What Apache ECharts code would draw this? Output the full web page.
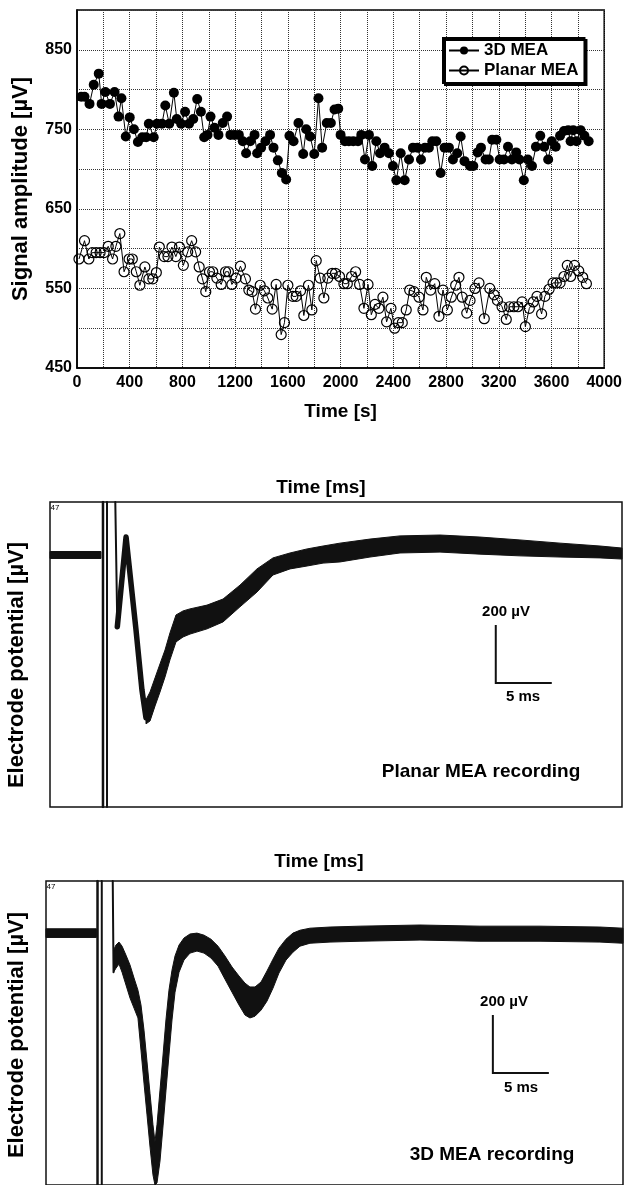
<!DOCTYPE html>
<html>
<head>
<meta charset="utf-8">
<script src="https://cdn.jsdelivr.net/npm/echarts@6/dist/echarts.min.js"></script>
<style>
  html, body { margin: 0; padding: 0; background: #fff; }
  #chart { width: 625px; height: 1185px; }
</style>
</head>
<body>
<div id="chart"></div>
<script>
// top panel: signal amplitude over time, [time s, amplitude uV]
var mea3D = [
  [32,791],[57,791],[95,782],[127,806],[165,820],[187,782],[215,797],[250,782],[285,797],[315,766],[337,789],[370,741],[400,765],[432,750],[462,734],[495,740],[525,740],[545,757],[582,740],[607,757],[645,757],[670,780],[700,757],[735,796],[757,763],[790,757],[820,772],[850,757],[882,763],[912,788],[940,772],[965,740],
  [990,743],[1013,766],[1043,752],[1073,743],[1106,758],[1139,766],[1164,743],[1195,743],[1228,743],[1258,735],[1283,720],[1314,735],[1347,743],[1367,720],[1397,727],[1430,735],[1465,743],[1491,727],[1524,711],[1554,695],[1587,687],[1612,742],[1643,735],[1680,758],[1716,719],[1739,750],[1769,741],[1800,719],[1832,789],[1860,727],[1895,758],[1926,758],[1954,775],
  [1982,776],[2000,743],[2033,735],[2063,735],[2096,735],[2132,735],[2157,743],[2185,712],[2215,743],[2240,704],[2271,735],[2299,720],[2334,727],[2367,720],[2397,704],[2423,686],[2456,720],[2486,686],[2519,712],[2549,727],[2582,727],[2610,712],[2640,727],[2670,727],[2696,735],[2726,735],[2759,695],[2789,727],[2822,727],[2852,712],[2885,720],[2911,741],[2940,710],
  [2982,704],[3007,704],[3040,721],[3065,727],[3100,712],[3125,712],[3150,737],[3182,737],[3207,712],[3240,712],[3270,728],[3300,712],[3332,721],[3357,712],[3390,686],[3420,712],[3452,704],[3482,728],[3515,742],[3545,728],[3575,712],[3602,735],[3632,728],[3665,742],[3695,748],[3727,749],[3745,735],[3765,749],[3790,735],[3820,749],[3850,742],[3882,735]
];
var planarMEA = [
  [15,587],[57,610],[90,587],[115,595],[145,595],[175,595],[205,595],[237,603],[270,587],[295,603],[325,619],[357,571],[395,587],[420,587],[450,571],[477,554],[515,577],[545,562],[575,562],[602,570],[625,602],[662,590],[690,590],[720,602],[750,590],[777,602],[807,579],[840,596],[870,610],[900,596],[927,577],[952,562],[977,546],
  [1005,571],[1030,571],[1061,563],[1094,555],[1127,571],[1149,571],[1175,555],[1207,563],[1240,578],[1278,562],[1304,548],[1329,546],[1354,524],[1390,554],[1422,547],[1448,538],[1481,524],[1511,555],[1549,492],[1574,507],[1600,554],[1638,540],[1663,540],[1696,547],[1721,516],[1756,554],[1782,523],[1815,585],[1845,563],[1873,538],[1903,563],[1936,569],[1961,569],
  [1992,565],[2025,556],[2051,556],[2083,565],[2114,571],[2144,555],[2177,525],[2208,555],[2233,517],[2261,530],[2291,525],[2321,539],[2349,508],[2382,525],[2410,500],[2438,507],[2468,507],[2498,523],[2524,548],[2557,546],[2595,539],[2625,523],[2650,564],[2683,548],[2714,556],[2746,515],[2777,548],[2810,523],[2840,539],[2873,554],[2898,564],[2923,539],
  [2957,519],[2982,535],[3020,550],[3050,557],[3090,512],[3132,550],[3165,542],[3190,535],[3225,527],[3257,511],[3282,527],[3315,527],[3345,527],[3377,533],[3402,502],[3432,525],[3462,533],[3490,540],[3525,518],[3550,540],[3582,549],[3612,557],[3637,557],[3665,557],[3695,565],[3720,579],[3745,565],[3775,579],[3807,572],[3837,564],[3865,556]
];

// recordings: time ms, potential uV (noise band as [t, upper, lower])
var planarBaseline = [[0, 12, -12], [4.55, 12, -12]];
var planarArtifact = [4.73, 5.09];
var planarSpike = [[5.83, 183], [6.01, -248]];
var planarWave = [[6.01, -248], [6.79, 62], [7.68, -259], [8.21, -466], [8.57, -562]];
var planarBand = [
  [8.57,-500,-583],[8.93,-473,-573],[9.38,-424,-521],[9.82,-376,-473],[10.27,-328,-421],[10.71,-269,-362],
  [11.25,-207,-300],[11.88,-193,-283],[12.5,-186,-273],[14.02,-173,-255],[15.45,-152,-231],[16.96,-104,-179],
  [18.48,-48,-128],[19.91,-10,-69],[21.43,7,-48],[22.95,21,-38],[24.38,31,-28],[25.89,41,-24],[28.57,55,-7],
  [31.25,66,7],[34.82,69,10],[38.39,62,3],[41.96,52,-3],[45.54,41,-7],[49.11,31,-10],[51.07,24,-14]
];

var mea3dBaseline = [[0, 15, -15], [4.5, 15, -15]];
var mea3dArtifact = [4.6, 4.98];
var mea3dSpike = [[5.96, 180], [6.03, -135]];
var mea3dBand = [
  [6.03,-59,-135],[6.25,-41,-121],[6.52,-31,-107],[6.79,-45,-135],[7.14,-76,-179],[7.5,-110,-224],
  [7.86,-155,-259],[8.21,-197,-293],[8.48,-248,-404],[8.75,-335,-518],[9.02,-445,-628],[9.29,-555,-739],
  [9.55,-662,-835],[9.73,-721,-870],[9.91,-662,-863],[10.18,-542,-787],[10.45,-421,-666],[10.71,-300,-545],
  [10.98,-197,-421],[11.25,-128,-300],[11.52,-79,-204],[11.88,-41,-135],[12.32,-17,-93],[12.86,-3,-69],
  [13.48,0,-62],[14.11,-7,-69],[14.73,-21,-86],[15.36,-45,-114],[15.98,-79,-159],[16.61,-117,-204],
  [17.23,-148,-248],[17.77,-173,-283],[18.21,-186,-293],[18.66,-186,-287],[19.2,-169,-266],[19.73,-131,-235],
  [20.27,-90,-190],[20.8,-52,-138],[21.43,-21,-93],[22.05,0,-66],[22.68,10,-45],[23.57,17,-35],
  [25.36,21,-31],[28.04,24,-28],[33.39,28,-24],[38.75,24,-28],[44.11,24,-28],[49.46,21,-31],[51.52,17,-35]
];

var scaleMs = 5, scaleUv = 200;

var FONT = "'Liberation Sans', Arial, Helvetica, sans-serif";
var INK = '#111';

var chart = echarts.init(document.getElementById('chart'));

function bandRender(rows) {
  return function (params, api) {
    if (params.dataIndex !== 0) return null;
    var upper = rows.map(function (r) { return api.coord([r[0], r[1]]); });
    var lower = rows.map(function (r) { return api.coord([r[0], r[2]]); }).reverse();
    return {
      type: 'polygon',
      shape: { points: upper.concat(lower) },
      style: { fill: INK, stroke: INK, lineWidth: 1 }
    };
  };
}

function band(rows, idx) {
  return {
    type: 'custom', xAxisIndex: idx, yAxisIndex: idx,
    data: rows, encode: { x: 0, y: [1, 2] },
    renderItem: bandRender(rows), silent: true
  };
}

function trace(points, idx, width) {
  return {
    type: 'line', xAxisIndex: idx, yAxisIndex: idx, data: points,
    symbol: 'none', silent: true,
    lineStyle: { color: INK, width: width, join: 'round', cap: 'round' }
  };
}

function artifactLines(times, idx, yMin, yMax) {
  return times.map(function (t, i) {
    return trace([[t, yMin], [t, yMax]], idx, i === 0 ? 2.5 : 2);
  });
}

function scaleBar(idx, t0, v0) {
  return {
    type: 'line', xAxisIndex: idx, yAxisIndex: idx, symbol: 'none', silent: true,
    data: [[t0, v0 + scaleUv], [t0, v0], [t0 + scaleMs, v0]],
    lineStyle: { color: INK, width: 2, join: 'miter' }
  };
}

function txt(s, x, y, size, bold, rot) {
  return {
    type: 'text', x: x, y: y, rotation: rot || 0, silent: true,
    style: {
      text: s, fill: '#000', align: 'center', verticalAlign: 'middle',
      font: (bold ? 'bold ' : '') + size + 'px ' + FONT
    }
  };
}

var tickFont = { color: '#000', fontFamily: FONT, fontWeight: 'bold', fontSize: 16 };
var gridDots = { show: true, lineStyle: { color: '#333', type: 'dotted', width: 1 } };

var option = {
  animation: false,
  backgroundColor: '#fff',
  grid: [
    { left: 77, top: 10, width: 533, height: 358, show: true, borderColor: '#000', borderWidth: 1.5 },
    { left: 50, top: 502, width: 572, height: 305, show: true, borderColor: INK, borderWidth: 1.5 },
    { left: 46, top: 881, width: 577, height: 304, show: true, borderColor: INK, borderWidth: 1.5 }
  ],
  legend: {
    left: 443, top: 38, orient: 'vertical',
    data: ['3D MEA', 'Planar MEA'],
    itemWidth: 30, itemHeight: 10, itemGap: 1,
    padding: [3, 6, 3, 5],
    backgroundColor: '#fff', borderColor: '#000', borderWidth: 2,
    shadowColor: '#000', shadowOffsetX: 2, shadowOffsetY: 2, shadowBlur: 0,
    textStyle: { color: '#000', fontFamily: FONT, fontWeight: 'bold', fontSize: 17, lineHeight: 19 }
  },
  xAxis: [
    {
      type: 'value', gridIndex: 0, min: 0, max: 4000, interval: 200,
      name: 'Time [s]', nameLocation: 'middle', nameGap: 34,
      nameTextStyle: { color: '#000', fontFamily: FONT, fontWeight: 'bold', fontSize: 19 },
      axisLine: { lineStyle: { color: '#000', width: 1.5 } },
      axisTick: { show: false },
      splitLine: gridDots,
      axisLabel: Object.assign({ margin: 7, formatter: function (v) { return v % 400 === 0 ? v : ''; } }, tickFont)
    },
    { type: 'value', gridIndex: 1, min: 0, max: 51.07, show: false },
    { type: 'value', gridIndex: 2, min: 0, max: 51.52, show: false }
  ],
  yAxis: [
    {
      type: 'value', gridIndex: 0, min: 450, max: 900, interval: 50,
      name: 'Signal amplitude [µV]', nameLocation: 'middle', nameGap: 45, nameRotate: 90,
      nameTextStyle: { color: '#000', fontFamily: FONT, fontWeight: 'bold', fontSize: 22 },
      axisLine: { lineStyle: { color: '#000', width: 1.5 } },
      axisTick: { show: false },
      splitLine: gridDots,
      axisLabel: Object.assign({ margin: 5, formatter: function (v) { return (v - 450) % 100 === 0 && v < 900 ? v : ''; } }, tickFont)
    },
    { type: 'value', gridIndex: 1, min: -870, max: 183, show: false },
    { type: 'value', gridIndex: 2, min: -870, max: 180, show: false }
  ],
  series: [
    {
      name: 'Planar MEA', type: 'line', xAxisIndex: 0, yAxisIndex: 0, data: planarMEA,
      symbol: 'circle', symbolSize: 10,
      itemStyle: { color: 'rgba(255,255,255,0)', borderColor: '#000', borderWidth: 1.2 },
      lineStyle: { color: '#000', width: 1 }
    },
    {
      name: '3D MEA', type: 'line', xAxisIndex: 0, yAxisIndex: 0, data: mea3D,
      symbol: 'circle', symbolSize: 10,
      itemStyle: { color: '#000' },
      lineStyle: { color: '#000', width: 1 }
    },
    band(planarBaseline, 1),
    trace(planarSpike, 1, 2),
    trace(planarWave, 1, 5.5),
    band(planarBand, 1),
    scaleBar(1, 39.8, -442),
    band(mea3dBaseline, 2),
    trace(mea3dSpike, 2, 2),
    band(mea3dBand, 2),
    scaleBar(2, 39.9, -483)
  ].concat(artifactLines(planarArtifact, 1, -870, 183))
   .concat(artifactLines(mea3dArtifact, 2, -870, 180)),
  graphic: [
    txt('Time [ms]', 321, 488, 19, true),
    txt('Electrode potential [µV]', 17, 665, 22, true, Math.PI / 2),
    txt('47', 55, 508, 8, false),
    txt('200 µV', 506, 612, 15, true),
    txt('5 ms', 523, 697, 15, true),
    txt('Planar MEA recording', 481, 772, 19, true),
    txt('Time [ms]', 319, 862, 19, true),
    txt('Electrode potential [µV]', 17, 1035, 22, true, Math.PI / 2),
    txt('47', 51, 887, 8, false),
    txt('200 µV', 504, 1002, 15, true),
    txt('5 ms', 521, 1088, 15, true),
    txt('3D MEA recording', 492, 1155, 19, true)
  ]
};

chart.setOption(option);
</script>
</body>
</html>
